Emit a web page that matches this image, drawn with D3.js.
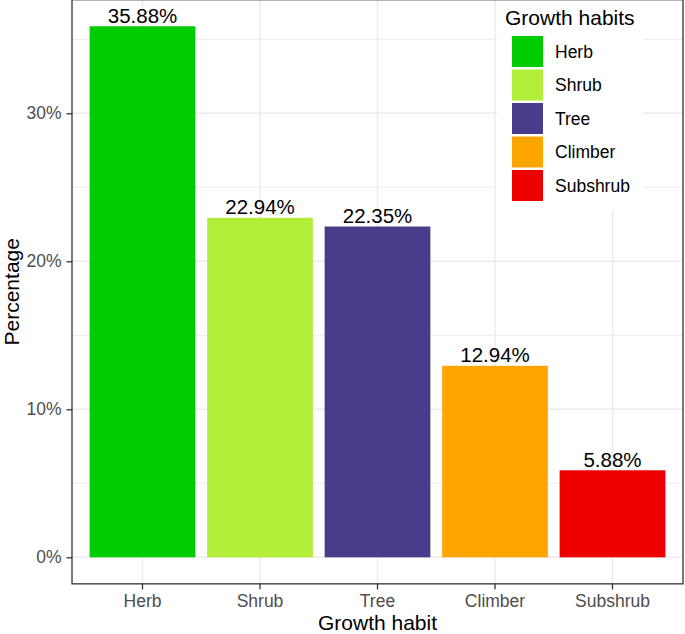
<!DOCTYPE html>
<html>
<head>
<meta charset="utf-8">
<script src="https://cdn.jsdelivr.net/npm/d3@7"></script>
<style>
body { margin: 0; background: #fff; }
svg { display: block; font-family: "Liberation Sans", Arial, sans-serif; }
</style>
</head>
<body>
<svg id="chart" width="685" height="634"></svg>
<script>
const categories = ["Herb", "Shrub", "Tree", "Climber", "Subshrub"];
const values = [35.88, 22.94, 22.35, 12.94, 5.88];
const colors = ["#00CD00", "#B3EE3A", "#483D8B", "#FFA500", "#EE0000"];
const yTicks = [0, 10, 20, 30];
const yMinor = [5, 15, 25, 35];
const legendTitle = "Growth habits";
const xTitle = "Growth habit";
const yTitle = "Percentage";

const svg = d3.select("#chart");
const left = 72, right = 683;

const maxV = d3.max(values);
const y = d3.scaleLinear().domain([0, 30]).range([557.3, 113.3]);
const pTop = y(maxV * 1.05), pBot = y(-maxV * 0.05);

const x = d3.scaleBand().domain(categories).range([left, right])
  .paddingInner(0.1).paddingOuter(0.15);

// panel background
svg.append("rect").attr("x", left).attr("y", pTop).attr("width", right - left)
  .attr("height", pBot - pTop).attr("fill", "#fff");

// minor gridlines
svg.append("g").selectAll("line").data(yMinor).join("line")
  .attr("x1", left).attr("x2", right)
  .attr("y1", d => y(d)).attr("y2", d => y(d))
  .attr("stroke", "#EBEBEB").attr("stroke-width", 1);
// major gridlines
svg.append("g").selectAll("line").data(yTicks).join("line")
  .attr("x1", left).attr("x2", right)
  .attr("y1", d => y(d)).attr("y2", d => y(d))
  .attr("stroke", "#EBEBEB").attr("stroke-width", 1.4);
svg.append("g").selectAll("line").data(categories).join("line")
  .attr("x1", d => x(d) + x.bandwidth() / 2).attr("x2", d => x(d) + x.bandwidth() / 2)
  .attr("y1", pTop).attr("y2", pBot)
  .attr("stroke", "#EBEBEB").attr("stroke-width", 1.4);

// bars
svg.append("g").selectAll("rect").data(categories).join("rect")
  .attr("x", d => x(d)).attr("width", x.bandwidth())
  .attr("y", (d, i) => y(values[i])).attr("height", (d, i) => y(0) - y(values[i]))
  .attr("fill", (d, i) => colors[i]);

// bar labels
svg.append("g").selectAll("text").data(categories).join("text")
  .attr("x", d => x(d) + x.bandwidth() / 2)
  .attr("y", (d, i) => y(values[i]) - 3.5)
  .attr("text-anchor", "middle").attr("font-size", 20.5).attr("fill", "#000")
  .text((d, i) => values[i].toFixed(2) + "%");

// legend
const lg = svg.append("g");
lg.append("rect").attr("x", 497).attr("y", 0).attr("width", 146).attr("height", 210).attr("fill", "#fff");
lg.append("text").attr("x", 505).attr("y", 25).attr("font-size", 21).attr("fill", "#000").text(legendTitle);
const items = lg.selectAll("g.item").data(categories).join("g").attr("class", "item")
  .attr("transform", (d, i) => `translate(512, ${36 + i * 33.5})`);
items.append("rect").attr("width", 31).attr("height", 31).attr("fill", (d, i) => colors[i]);
items.append("text").attr("x", 43).attr("y", 15.5).attr("dy", "0.35em")
  .attr("font-size", 17.5).attr("fill", "#000").text(d => d);

// panel border
svg.append("rect").attr("x", left).attr("y", pTop).attr("width", right - left)
  .attr("height", pBot - pTop).attr("fill", "none").attr("stroke", "#333").attr("stroke-width", 1.3);

// y axis
const yAxis = svg.append("g").attr("transform", `translate(${left},0)`)
  .call(d3.axisLeft(y).tickValues(yTicks).tickFormat(d => d + "%").tickSize(5.5).tickPadding(5));
yAxis.select(".domain").remove();
yAxis.selectAll("line").attr("stroke", "#333").attr("stroke-width", 1.3);
yAxis.selectAll("text").attr("font-size", 17.5).attr("fill", "#4D4D4D").attr("font-family", "Liberation Sans, Arial, sans-serif");

// x axis
const xAxis = svg.append("g").attr("transform", `translate(0,${pBot})`)
  .call(d3.axisBottom(x).tickSize(5.5).tickPadding(5));
xAxis.select(".domain").remove();
xAxis.selectAll("line").attr("stroke", "#333").attr("stroke-width", 1.3);
xAxis.selectAll("text").attr("font-size", 17.5).attr("fill", "#4D4D4D").attr("font-family", "Liberation Sans, Arial, sans-serif");

// titles
svg.append("text").attr("x", (left + right) / 2).attr("y", 630)
  .attr("text-anchor", "middle").attr("font-size", 21).attr("fill", "#000").text(xTitle);
svg.append("text").attr("transform", `translate(18.5, ${(pTop + pBot) / 2}) rotate(-90)`)
  .attr("text-anchor", "middle").attr("font-size", 21).attr("fill", "#000").text(yTitle);
</script>
</body>
</html>
